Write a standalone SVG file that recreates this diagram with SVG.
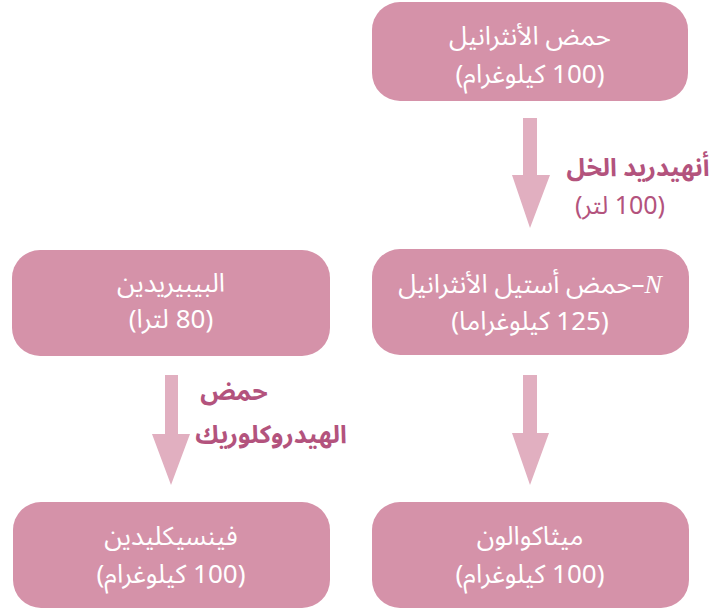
<svg xmlns="http://www.w3.org/2000/svg" width="717" height="612" viewBox="0 0 717 612">
<style>
.box{fill:#d592a9;}
.bt{font-family:"Noto Sans Arabic","Noto Naskh Arabic","DejaVu Sans",sans-serif;font-size:26px;fill:#ffffff;text-anchor:middle;}
.lbl{font-family:"Noto Sans Arabic","Noto Naskh Arabic","DejaVu Sans",sans-serif;font-size:25px;fill:#b3537d;text-anchor:middle;}
.b{font-weight:bold;}
.arr{fill:#e1afc0;}
.n{font-family:"Liberation Serif","DejaVu Serif",serif;font-style:italic;}
</style>
<g id="connectors">
<polygon class="arr" points="523,118 537,118 537,175 550,175 530,228 512,175 523,175"/>
<polygon class="arr" points="165,375 178,375 178,434 190,434 171,485 152,434 165,434"/>
<polygon class="arr" points="523,375 537,375 537,433 549,433 530,485 512,433 523,433"/>
<text class="lbl b" x="638" y="176">أنهيدريد الخل</text>
<text class="lbl" x="620" y="214" direction="rtl" unicode-bidi="embed">(100 لتر)</text>
<text class="lbl b" x="234" y="400">حمض</text>
<text class="lbl b" x="271" y="443">الهيدروكلوريك</text>
</g>
<g id="anthranilic">
<rect class="box" x="372" y="2" width="316" height="99" rx="28"/>
<text class="bt" x="530" y="45">حمض الأنثرانيل</text>
<text class="bt" x="530" y="83" direction="rtl" unicode-bidi="embed">(100 كيلوغرام)</text>
</g>
<g id="acetylanthranilic">
<rect class="box" x="372" y="249" width="317" height="106" rx="28"/>
<text class="bt" x="530" y="293" direction="rtl" unicode-bidi="embed"><tspan class="n">N</tspan>–حمض أستيل الأنثرانيل</text>
<text class="bt" x="530" y="330" direction="rtl" unicode-bidi="embed">(125 كيلوغراما)</text>
</g>
<g id="piperidine">
<rect class="box" x="12" y="250" width="318" height="106" rx="28"/>
<text class="bt" x="171" y="292">البيبيريدين</text>
<text class="bt" x="171" y="328" direction="rtl" unicode-bidi="embed">(80 لترا)</text>
</g>
<g id="phencyclidine">
<rect class="box" x="13" y="502" width="317" height="106" rx="28"/>
<text class="bt" x="171" y="545">فينسيكليدين</text>
<text class="bt" x="171" y="583" direction="rtl" unicode-bidi="embed">(100 كيلوغرام)</text>
</g>
<g id="methaqualone">
<rect class="box" x="372" y="502" width="317" height="106" rx="28"/>
<text class="bt" x="530" y="545">ميثاكوالون</text>
<text class="bt" x="530" y="583" direction="rtl" unicode-bidi="embed">(100 كيلوغرام)</text>
</g>
</svg>
